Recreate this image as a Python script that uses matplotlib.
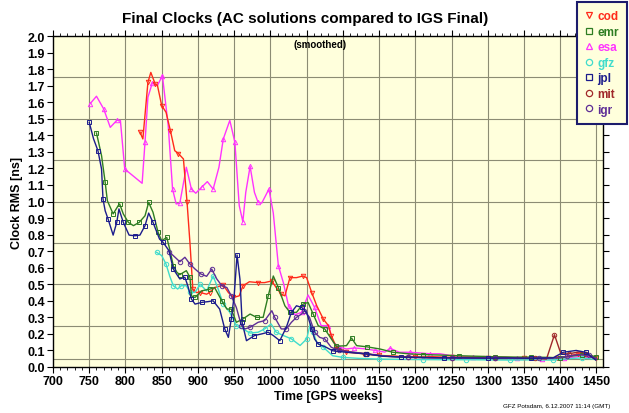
import matplotlib
matplotlib.use("Agg")
import matplotlib.pyplot as plt
from matplotlib.lines import Line2D
from matplotlib.ticker import MultipleLocator, FormatStrFormatter

plt.rcParams['font.family'] = ['Liberation Sans', 'DejaVu Sans']
plt.rcParams['font.weight'] = 'bold'

# ---------------- data ----------------
esa_w = [751, 760, 770, 779, 788, 793, 799, 823, 827, 831, 837, 844, 851, 859, 865, 870, 875, 884, 891, 897,
         905, 913, 921, 929, 935, 944, 951, 957, 962, 966, 972, 978, 983, 988, 998, 1004, 1011, 1018, 1025,
         1034, 1043, 1052, 1061, 1070, 1080, 1087, 1095, 1105, 1116, 1130, 1145, 1158, 1165, 1178, 1192,
         1206, 1220, 1234, 1250, 1265, 1280, 1295, 1310, 1325, 1340, 1355, 1375, 1390, 1405, 1420, 1435, 1450]
esa_v = [1.59, 1.636, 1.559, 1.448, 1.49, 1.49, 1.196, 1.11, 1.36, 1.63, 1.716, 1.70, 1.76, 1.458, 1.075,
         0.985, 0.99, 1.207, 1.075, 1.05, 1.086, 1.12, 1.075, 1.207, 1.378, 1.49, 1.358, 0.975, 0.878, 1.055,
         1.212, 1.055, 0.995, 0.99, 1.075, 0.93, 0.612, 0.508, 0.37, 0.316, 0.33, 0.435, 0.36, 0.25, 0.25,
         0.149, 0.12, 0.109, 0.115, 0.11, 0.10, 0.09, 0.113, 0.089, 0.089, 0.085, 0.08, 0.08, 0.068, 0.062,
         0.059, 0.063, 0.06, 0.058, 0.053, 0.053, 0.049, 0.05, 0.055, 0.06, 0.07, 0.05]

cod_w = [820, 824, 831, 835, 841, 844, 850, 856, 862, 868, 873, 880, 885, 889, 893, 898, 903, 912, 916, 923,
         935, 942, 949, 957, 962, 971, 983, 992, 1002, 1008, 1015, 1020, 1027, 1036, 1045, 1050, 1057, 1064,
         1073, 1080, 1084, 1091, 1105, 1132, 1150, 1175, 1200, 1225, 1250, 1275, 1300, 1325, 1350, 1375,
         1395, 1410, 1425, 1438, 1450]
cod_v = [1.42, 1.378, 1.72, 1.78, 1.71, 1.704, 1.58, 1.539, 1.428, 1.307, 1.29, 1.257, 0.995, 0.75, 0.47,
         0.45, 0.45, 0.44, 0.45, 0.48, 0.495, 0.45, 0.42, 0.43, 0.49, 0.515, 0.51, 0.51, 0.52, 0.48, 0.44,
         0.43, 0.54, 0.54, 0.55, 0.54, 0.45, 0.37, 0.29, 0.25, 0.19, 0.12, 0.09, 0.079, 0.07, 0.065, 0.06,
         0.062, 0.058, 0.06, 0.057, 0.058, 0.055, 0.056, 0.055, 0.065, 0.08, 0.075, 0.055]

emr_w = [760, 767, 772, 775, 783, 790, 792, 797, 804, 811, 819, 827, 832, 838, 845, 850, 857, 861, 866, 871,
         875, 884, 889, 891, 896, 905, 916, 923, 933, 940, 946, 953, 962, 972, 981, 990, 997, 1004, 1011,
         1020, 1027, 1036, 1045, 1052, 1059, 1066, 1075, 1084, 1091, 1105, 1112, 1119, 1133, 1151, 1169,
         1190, 1210, 1235, 1260, 1285, 1310, 1335, 1360, 1385, 1400, 1415, 1430, 1442, 1450]
emr_v = [1.414, 1.277, 1.116, 1.005, 0.925, 0.975, 0.985, 0.925, 0.874, 0.854, 0.874, 0.914, 0.995, 0.935,
         0.814, 0.763, 0.783, 0.713, 0.612, 0.572, 0.558, 0.582, 0.542, 0.43, 0.42, 0.46, 0.47, 0.48, 0.40,
         0.35, 0.35, 0.27, 0.29, 0.32, 0.30, 0.30, 0.43, 0.55, 0.48, 0.37, 0.33, 0.33, 0.38, 0.39, 0.32,
         0.25, 0.23, 0.17, 0.125, 0.129, 0.175, 0.129, 0.122, 0.109, 0.089, 0.08, 0.075, 0.072, 0.068,
         0.065, 0.062, 0.06, 0.06, 0.058, 0.055, 0.065, 0.075, 0.07, 0.06]

gfz_w = [843, 850, 856, 861, 866, 872, 877, 884, 889, 896, 903, 912, 921, 928, 935, 944, 953, 962, 972, 983,
         992, 1001, 1008, 1018, 1029, 1041, 1050, 1055, 1059, 1064, 1073, 1086, 1100, 1123, 1150, 1180,
         1210, 1240, 1270, 1300, 1330, 1360, 1390, 1410, 1430, 1450]
gfz_v = [0.693, 0.673, 0.622, 0.55, 0.491, 0.471, 0.491, 0.491, 0.451, 0.451, 0.50, 0.46, 0.55, 0.47, 0.38,
         0.33, 0.25, 0.23, 0.205, 0.21, 0.23, 0.26, 0.21, 0.19, 0.17, 0.13, 0.169, 0.26, 0.21, 0.149, 0.119,
         0.068, 0.058, 0.052, 0.048, 0.046, 0.045, 0.044, 0.044, 0.043, 0.042, 0.043, 0.042, 0.05, 0.055,
         0.045]

jpl_w = [750, 756, 762, 767, 769, 772, 776, 783, 788, 791, 797, 805, 813, 820, 827, 832, 838, 847, 852, 860,
         866, 875, 882, 886, 891, 896, 906, 914, 921, 930, 937, 942, 946, 950, 954, 958, 961, 967, 978, 988,
         997, 1004, 1013, 1022, 1029, 1036, 1043, 1050, 1057, 1061, 1066, 1077, 1086, 1105, 1132, 1155,
         1180, 1210, 1240, 1270, 1300, 1330, 1360, 1390, 1404, 1422, 1435, 1449]
jpl_v = [1.478, 1.378, 1.307, 1.196, 1.015, 0.944, 0.894, 0.797, 0.874, 0.955, 0.874, 0.797, 0.793, 0.797,
         0.854, 0.93, 0.874, 0.773, 0.753, 0.703, 0.592, 0.532, 0.542, 0.491, 0.411, 0.38, 0.391, 0.395,
         0.40, 0.35, 0.23, 0.179, 0.29, 0.43, 0.677, 0.53, 0.27, 0.159, 0.19, 0.20, 0.21, 0.19, 0.159, 0.24,
         0.33, 0.37, 0.36, 0.33, 0.23, 0.169, 0.139, 0.119, 0.098, 0.089, 0.079, 0.065, 0.06, 0.058, 0.055,
         0.055, 0.053, 0.055, 0.052, 0.055, 0.089, 0.10, 0.089, 0.042]

mit_w = [1090, 1110, 1130, 1160, 1190, 1220, 1250, 1280, 1310, 1340, 1365, 1381, 1392, 1401, 1412, 1427,
         1436, 1447]
mit_v = [0.11, 0.09, 0.08, 0.065, 0.06, 0.057, 0.056, 0.055, 0.054, 0.053, 0.052, 0.048, 0.195, 0.079,
         0.08, 0.092, 0.079, 0.05]

igr_w = [860, 866, 875, 882, 889, 896, 904, 912, 919, 926, 933, 940, 946, 953, 960, 965, 972, 983, 992, 1002,
         1006, 1015, 1022, 1029, 1036, 1043, 1047, 1054, 1061, 1068, 1075, 1084, 1095, 1114, 1133, 1160,
         1190, 1220, 1250, 1280, 1310, 1340, 1370, 1395, 1410, 1425, 1440, 1450]
igr_v = [0.697, 0.673, 0.636, 0.663, 0.622, 0.592, 0.562, 0.548, 0.592, 0.532, 0.491, 0.48, 0.43, 0.36,
         0.25, 0.23, 0.24, 0.27, 0.28, 0.34, 0.30, 0.23, 0.23, 0.27, 0.30, 0.32, 0.34, 0.30, 0.21, 0.179,
         0.17, 0.119, 0.10, 0.09, 0.08, 0.065, 0.058, 0.055, 0.055, 0.053, 0.055, 0.052, 0.054, 0.055,
         0.065, 0.075, 0.07, 0.05]

names = ['cod', 'emr', 'esa', 'gfz', 'jpl', 'mit', 'igr']
series = {
    'cod': (cod_w, cod_v), 'emr': (emr_w, emr_v), 'esa': (esa_w, esa_v), 'gfz': (gfz_w, gfz_v),
    'jpl': (jpl_w, jpl_v), 'mit': (mit_w, mit_v), 'igr': (igr_w, igr_v),
}
colors = {'cod': '#ff2a1a', 'emr': '#2e7d22', 'esa': '#ff33ff', 'gfz': '#40dccc',
          'jpl': '#1c1c8c', 'mit': '#a0282a', 'igr': '#5e2e96'}
markers = {'cod': 'v', 'emr': 's', 'esa': '^', 'gfz': 'o', 'jpl': 's', 'mit': 'o', 'igr': 'o'}
draw_order = ['esa', 'cod', 'gfz', 'emr', 'mit', 'igr', 'jpl']

xticks = list(range(700, 1451, 50))
yticks = [round(0.1 * i, 1) for i in range(0, 21)]
hgrid = [0.05, 0.25, 0.5, 0.75, 1.0, 1.25, 1.5, 1.75]

# ---------------- figure ----------------
fig = plt.figure(figsize=(6.29, 4.14), dpi=100)
ax = fig.add_axes([53 / 629, 46 / 414, 550 / 629, 331 / 414])
ax.set_facecolor('#ffffdc')

for g in xticks[1:]:
    ax.axvline(g, color='#8c8c74', lw=0.8, zorder=1)
for g in hgrid:
    ax.axhline(g, color='#8c8c74', lw=0.8, zorder=1)

for i, n in enumerate(draw_order):
    w, v = series[n]
    ax.plot(w, v, color=colors[n], lw=1.0, marker=markers[n], ms=3.2, mfc='none', mec=colors[n],
            mew=0.7, markevery=2, zorder=3 + i)

ax.set_xlim(700, 1459)
ax.set_ylim(0, 2.0)
ax.set_xticks(xticks)
ax.set_yticks(yticks)
ax.xaxis.set_minor_locator(MultipleLocator(10))
ax.yaxis.set_major_formatter(FormatStrFormatter('%.1f'))
ax.tick_params(axis='both', which='major', direction='out', length=4, width=0.8, labelsize=9,
               top=True, right=True, pad=2)
ax.tick_params(axis='both', which='minor', direction='out', length=2, width=0.6, top=True, right=True)
for lab in ax.get_xticklabels() + ax.get_yticklabels():
    lab.set_fontweight('bold')
for s in ax.spines.values():
    s.set_linewidth(1.0)

ax.set_xlabel('Time [GPS weeks]', fontsize=9, fontweight='bold', labelpad=2)
ax.set_ylabel('Clock RMS [ns]', fontsize=9, fontweight='bold', labelpad=3)
fig.text(0.485, 0.953, 'Final Clocks (AC solutions compared to IGS Final)', ha='center', va='center',
         fontsize=11, fontweight='bold')
ax.text(0.485, 0.99, '(smoothed)', transform=ax.transAxes, ha='center', va='top', fontsize=7,
        fontweight='bold')
fig.text(0.885, 0.018, 'GFZ Potsdam, 6.12.2007 11:14 (GMT)', ha='center', va='center', fontsize=4.5,
         fontweight='normal')

handles = [Line2D([], [], ls='none', marker=markers[n], ms=4.5, mfc='none', mec=colors[n], mew=0.9)
           for n in names]
leg = fig.legend(handles, names, loc='upper right', bbox_to_anchor=(627 / 629, 1 - 3 / 414),
                 frameon=True, fancybox=False, framealpha=1, facecolor='#ffffdc', edgecolor='#1c1c6c',
                 prop={'weight': 'bold', 'size': 8.5}, handlelength=0.7, handletextpad=0.35,
                 labelspacing=0.3, borderpad=0.7, borderaxespad=0)
leg.get_frame().set_linewidth(1.5)
for t, n in zip(leg.get_texts(), names):
    t.set_color(colors[n])

fig.savefig('out.png', dpi=100)
